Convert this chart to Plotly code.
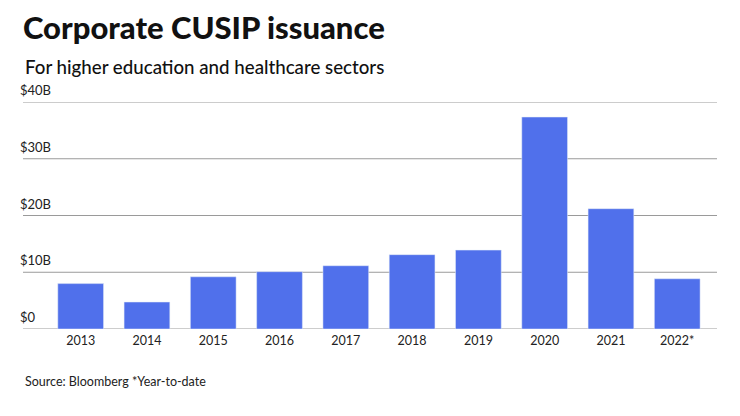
import plotly.graph_objects as go

years = ["2013", "2014", "2015", "2016", "2017", "2018", "2019", "2020", "2021", "2022*"]
issuance = [8.0, 4.75, 9.2, 10.1, 11.15, 13.1, 13.9, 37.35, 21.2, 8.85]  # $B
tick_vals = [0, 10, 20, 30, 40]
tick_text = ["$0", "$10B", "$20B", "$30B", "$40B"]

font = "Lato, 'Open Sans', sans-serif"

# page body has an 8px margin, so the figure is drawn 8px smaller and everything shifted
W, H = 732, 408
L, R, T, B = 15, 23, 94, 87
pw, ph = W - L - R, H - T - B


def px(x):
    return (x - 8 - L) / pw


def py(y):
    return (H - B - (y - 8)) / ph


fig = go.Figure(go.Bar(x=list(range(len(years))), y=issuance,
                       marker_color="#5070EB", width=0.69, hoverinfo="skip"))

fig.update_layout(
    width=W, height=H,
    margin=dict(l=L, r=R, t=T, b=B),
    plot_bgcolor="white", paper_bgcolor="white",
    showlegend=False,
    font=dict(family=font, color="#222"),
    xaxis=dict(range=[-0.87, 9.6], tickvals=list(range(len(years))), ticktext=years,
               showgrid=False, zeroline=False, showline=False, ticks="",
               ticklabelstandoff=2,
               tickfont=dict(size=12.5, color="#222")),
    yaxis=dict(range=[0, 40], tickvals=[], showticklabels=False,
               showgrid=False, zeroline=False),
)

# gridlines, with the labels sitting above them
for v, t in zip(tick_vals, tick_text):
    fig.add_shape(type="line", xref="paper", yref="y", x0=0, x1=1, y0=v, y1=v,
                  line=dict(color="#9a9a9a", width=1), layer="below")
    fig.add_annotation(x=px(18), xref="paper", y=v, yref="y", text=t, showarrow=False,
                       xanchor="left", yanchor="bottom", yshift=2,
                       font=dict(size=13, color="#222"))

fig.add_annotation(x=px(21), y=py(27), xref="paper", yref="paper", text="Corporate CUSIP issuance",
                   showarrow=False, xanchor="left", yanchor="middle",
                   font=dict(size=31, color="#111", family=font, weight=900))
fig.add_annotation(x=px(23), y=py(67), xref="paper", yref="paper",
                   text="For higher education and healthcare sectors",
                   showarrow=False, xanchor="left", yanchor="middle",
                   font=dict(size=18.7, color="#111", family=font, weight=500))
fig.add_annotation(x=px(23), y=py(381), xref="paper", yref="paper", text="Source: Bloomberg *Year-to-date",
                   showarrow=False, xanchor="left", yanchor="middle",
                   font=dict(size=12.5, color="#222", family=font))

fig.write_html("out.html")
